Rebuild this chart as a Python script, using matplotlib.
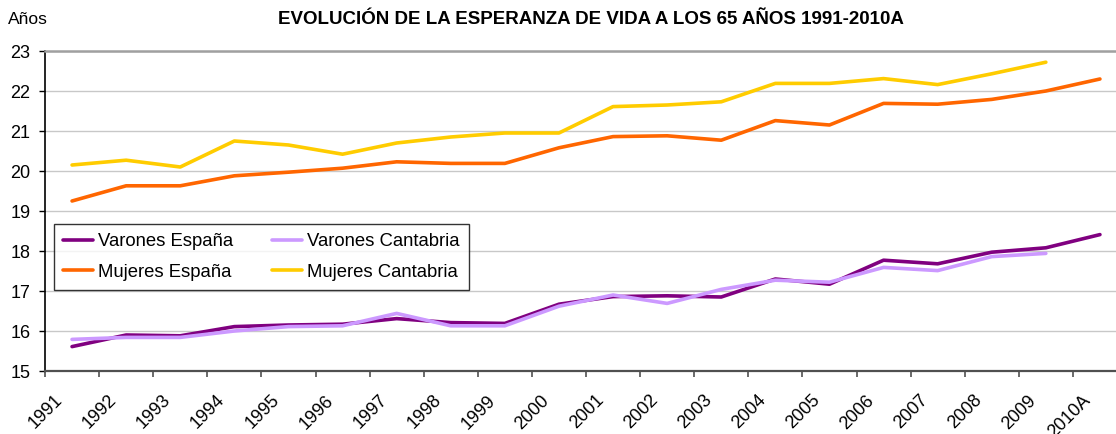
import numpy as np
import matplotlib.pyplot as plt
from matplotlib.transforms import ScaledTranslation

plt.rcParams['font.family'] = ['Liberation Sans', 'DejaVu Sans']

years = ['1991', '1992', '1993', '1994', '1995', '1996', '1997', '1998', '1999', '2000',
         '2001', '2002', '2003', '2004', '2005', '2006', '2007', '2008', '2009', '2010A']

varones_espana = [15.61, 15.90, 15.88, 16.11, 16.15, 16.17, 16.31, 16.21, 16.19, 16.67,
                  16.86, 16.88, 16.85, 17.30, 17.17, 17.77, 17.68, 17.97, 18.08, 18.41]
varones_cantabria = [15.79, 15.84, 15.84, 16.00, 16.11, 16.13, 16.44, 16.13, 16.13, 16.62,
                     16.90, 16.69, 17.04, 17.27, 17.22, 17.59, 17.51, 17.86, 17.94, np.nan]
mujeres_espana = [19.25, 19.63, 19.63, 19.88, 19.97, 20.07, 20.23, 20.19, 20.19, 20.58,
                  20.86, 20.88, 20.77, 21.26, 21.15, 21.69, 21.67, 21.79, 22.00, 22.30]
mujeres_cantabria = [20.15, 20.27, 20.10, 20.75, 20.65, 20.42, 20.70, 20.85, 20.95, 20.95,
                     21.61, 21.65, 21.73, 22.19, 22.19, 22.31, 22.16, 22.43, 22.72, np.nan]

W, H = 1116, 434
fig = plt.figure(figsize=(W / 100, H / 100), dpi=100)
# plot area runs past the right edge of the figure
ax = fig.add_axes([45 / W, 63 / H, 1082 / W, 320 / H])

x = np.arange(len(years))
lw = 2.6
l1, = ax.plot(x, varones_espana, color='#800080', lw=lw, label='Varones España', solid_capstyle='round')
l2, = ax.plot(x, varones_cantabria, color='#CC99FF', lw=lw, label='Varones Cantabria', solid_capstyle='round')
l3, = ax.plot(x, mujeres_espana, color='#FF6600', lw=lw, label='Mujeres España', solid_capstyle='round')
l4, = ax.plot(x, mujeres_cantabria, color='#FFCC00', lw=lw, label='Mujeres Cantabria', solid_capstyle='round')

ax.set_xlim(-0.5, len(years) - 0.5)
ax.set_ylim(15, 23)
ax.set_yticks(range(15, 24))
ax.tick_params(axis='y', labelsize=13, length=4.5, width=1, pad=6, color='black')
ax.yaxis.grid(True, color='#c8c8c8', lw=1)
ax.set_axisbelow(True)

# category labels centred, boundary ticks as minor ticks
ax.set_xticks(x)
ax.set_xticklabels(years, rotation=45, ha='right', va='top', fontsize=13)
ax.tick_params(axis='x', which='major', length=0, pad=15)
ax.set_xticks(np.arange(-0.5, len(years)), minor=True)
ax.tick_params(axis='x', which='minor', length=4.5, width=1.2, color='#505050')
shift = ScaledTranslation(-6 / 100, 0, fig.dpi_scale_trans)
for lab in ax.get_xticklabels():
    lab.set_transform(lab.get_transform() + shift)

ax.spines['left'].set_color('black')
ax.spines['left'].set_linewidth(1.2)
ax.spines['bottom'].set_color('#505050')
ax.spines['bottom'].set_linewidth(1.6)
ax.spines['top'].set_color('#a0a0a0')
ax.spines['top'].set_linewidth(1.8)
ax.spines['right'].set_visible(False)

leg = ax.legend(handles=[l1, l3, l2, l4], ncol=2, loc='upper left',
                bbox_to_anchor=(0.0083, 0.459), fontsize=13.3, frameon=True,
                fancybox=False, edgecolor='black', handlelength=1.6,
                handletextpad=0.3, columnspacing=2.1, labelspacing=0.72,
                borderpad=0.5, borderaxespad=0)
leg.get_frame().set_linewidth(1.0)

fig.text(591 / W, 1 - 20 / H, 'EVOLUCIÓN DE LA ESPERANZA DE VIDA A LOS 65 AÑOS 1991-2010A',
         ha='center', va='center', fontsize=13.5, fontweight='bold')
fig.text(8 / W, 1 - 20 / H, 'Años', ha='left', va='center', fontsize=12.5)

fig.savefig('out.png', dpi=100)
